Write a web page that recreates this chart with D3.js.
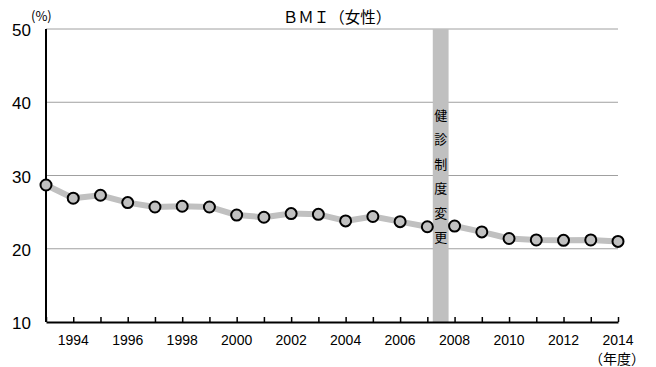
<!DOCTYPE html>
<html>
<head>
<meta charset="utf-8">
<script src="https://cdn.jsdelivr.net/npm/d3@7"></script>
<style>
  body { margin: 0; background: #fff; }
  svg text { font-family: "Liberation Sans", Arial, "Noto Sans CJK JP", sans-serif; fill: #000; }
  .cjk { font-family: "Noto Sans CJK JP", sans-serif; }
</style>
</head>
<body>
<svg id="chart" width="656" height="367"></svg>
<script>
const years = d3.range(1993, 2015);
const values = [28.7, 26.9, 27.3, 26.3, 25.7, 25.8, 25.7, 24.6, 24.3, 24.8, 24.7,
                23.8, 24.4, 23.7, 23.0, 23.1, 22.3, 21.4, 21.2, 21.15, 21.2, 21.0];
const yTicks = [10, 20, 30, 40, 50];
const xLabels = [1994, 1996, 1998, 2000, 2002, 2004, 2006, 2008, 2010, 2012, 2014];
const bandYears = [2007.2, 2007.78];
const bandText = ["健", "診", "制", "度", "変", "更"];
const title = "ＢＭＩ（女性）";

const svg = d3.select("#chart");
const x = d3.scaleLinear().domain([1993, 2014]).range([46, 618]);
const y = d3.scaleLinear().domain([10, 50]).range([322, 29]);

// grid lines
svg.append("g")
    .selectAll("line")
    .data(yTicks.filter(d => d > 10))
    .enter()
    .append("line")
    .attr("x1", x(1993))
    .attr("x2", x(2014))
    .attr("y1", d => y(d))
    .attr("y2", d => y(d))
    .attr("stroke", "#a0a0a0")
    .attr("stroke-width", 1);

// system change band
svg.append("rect")
    .attr("x", x(bandYears[0]))
    .attr("width", x(bandYears[1]) - x(bandYears[0]))
    .attr("y", y(50))
    .attr("height", y(10) - y(50))
    .attr("fill", "#c0c0c0");

svg.append("g")
    .selectAll("text")
    .data(bandText)
    .enter()
    .append("text")
    .attr("class", "cjk")
    .attr("x", x((bandYears[0] + bandYears[1]) / 2))
    .attr("y", (d, i) => 120 + i * 24.4)
    .attr("text-anchor", "middle")
    .attr("font-size", 13)
    .text(d => d);

// axes
svg.append("line")
    .attr("x1", x(1993)).attr("x2", x(1993))
    .attr("y1", y(50)).attr("y2", y(10))
    .attr("stroke", "#000").attr("stroke-width", 2);

const xAxis = d3.axisBottom(x)
    .tickValues(years)
    .tickSizeInner(-5)
    .tickSizeOuter(0)
    .tickFormat("");
const gx = svg.append("g")
    .attr("transform", `translate(0,${y(10)})`)
    .call(xAxis);
gx.select(".domain").attr("stroke", "#000").attr("stroke-width", 2);
gx.selectAll(".tick line").attr("stroke", "#000").attr("stroke-width", 1.5);

svg.append("g")
    .selectAll("text")
    .data(xLabels)
    .enter()
    .append("text")
    .attr("x", d => x(d))
    .attr("y", 345)
    .attr("text-anchor", "middle")
    .attr("font-size", 14)
    .text(d => d);

svg.append("g")
    .selectAll("text")
    .data(yTicks)
    .enter()
    .append("text")
    .attr("x", 31)
    .attr("y", d => y(d) + 7)
    .attr("text-anchor", "end")
    .attr("font-size", 17)
    .text(d => d);

// unit labels
svg.append("text")
    .attr("class", "cjk")
    .attr("x", 31).attr("y", 21)
    .attr("font-size", 13)
    .text("(%)");

svg.append("text")
    .attr("class", "cjk")
    .attr("x", 617).attr("y", 364)
    .attr("text-anchor", "middle")
    .attr("font-size", 14)
    .text("（年度）");

svg.append("text")
    .attr("class", "cjk")
    .attr("x", 337).attr("y", 23)
    .attr("text-anchor", "middle")
    .attr("font-size", 15.5)
    .text(title);

// series line and markers
const line = d3.line()
    .x((d, i) => x(years[i]))
    .y(d => y(d));

svg.append("path")
    .datum(values)
    .attr("d", line)
    .attr("fill", "none")
    .attr("stroke", "#c0c0c0")
    .attr("stroke-width", 6)
    .attr("stroke-linejoin", "round");

svg.append("g")
    .selectAll("circle")
    .data(values)
    .enter()
    .append("circle")
    .attr("cx", (d, i) => x(years[i]))
    .attr("cy", d => y(d))
    .attr("r", 5.5)
    .attr("fill", "#c0c0c0")
    .attr("stroke", "#000")
    .attr("stroke-width", 2);
</script>
</body>
</html>
